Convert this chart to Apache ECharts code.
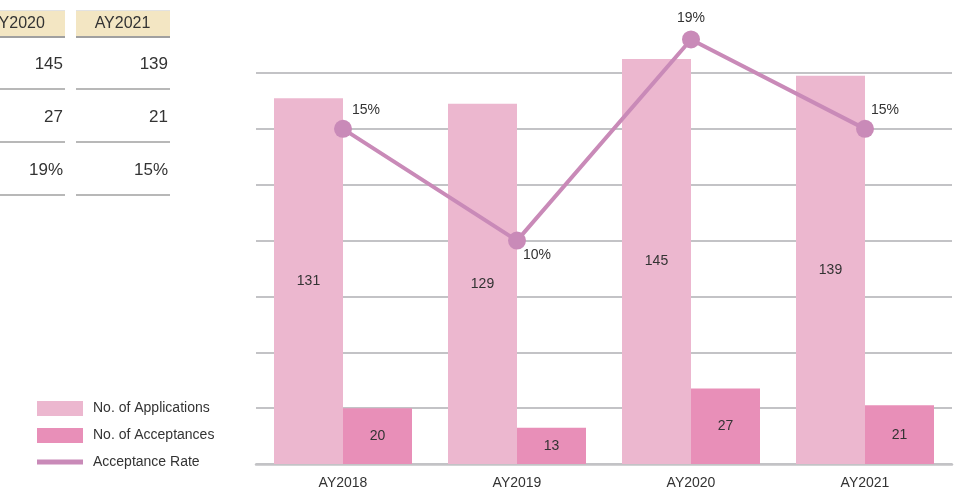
<!DOCTYPE html>
<html>
<head>
<meta charset="utf-8">
<script src="https://cdn.jsdelivr.net/npm/echarts@6/dist/echarts.min.js"></script>
<style>html,body{margin:0;padding:0;background:#fff;}#c{width:979px;height:491px;}</style>
</head>
<body>
<div id="c"></div>
<script>
const categories = ['AY2018', 'AY2019', 'AY2020', 'AY2021'];
const applications = [131, 129, 145, 139];
const acceptances = [20, 13, 27, 21];
const rates = [15, 10, 19, 15];
const tableCols = [2, 3]; // indices of categories shown in the (cropped) table
const seriesNames = ['No. of Applications', 'No. of Acceptances', 'Acceptance Rate'];

const FONT = '"Liberation Sans", Arial, Helvetica, sans-serif';
const C_APP = '#ecb7cf';
const C_ACC = '#e88fb8';
const C_LINE = '#c98ab8';
const C_GRID = '#c3c3c6';

const rateLabelCfg = [
  { position: 'right', offset: [-5, -19] },
  { position: 'right', offset: [-8, 15] },
  { position: 'top', offset: [0, 0] },
  { position: 'right', offset: [-8, -19] }
];

// table graphic
const graphics = [];
const colX = [{ x0: -30, x1: 65 }, { x0: 76, x1: 170 }];
const rowYs = [64, 117, 170];
const lineYs = [89, 142, 195];
tableCols.forEach((ci, k) => {
  const c = colX[k];
  graphics.push({ type: 'rect', shape: { x: c.x0, y: 10, width: c.x1 - c.x0, height: 27 }, style: { fill: '#f3e6c3' } });
  graphics.push({ type: 'line', shape: { x1: c.x0, y1: 10.5, x2: c.x1, y2: 10.5 }, style: { stroke: '#e2e2e2', lineWidth: 1 } });
  graphics.push({ type: 'line', shape: { x1: c.x0, y1: 37, x2: c.x1, y2: 37 }, style: { stroke: '#a0a0a0', lineWidth: 2 } });
  graphics.push({ type: 'text', x: (c.x0 + c.x1) / 2 - 0.5, y: 23.5, style: { text: categories[ci], font: '16px ' + FONT, fill: '#333', align: 'center', verticalAlign: 'middle' } });
  const vals = [String(applications[ci]), String(acceptances[ci]), rates[ci] + '%'];
  vals.forEach((v, r) => {
    graphics.push({ type: 'text', x: c.x1 - 2, y: rowYs[r], style: { text: v, font: '17px ' + FONT, fill: '#333', align: 'right', verticalAlign: 'middle' } });
    graphics.push({ type: 'line', shape: { x1: c.x0, y1: lineYs[r], x2: c.x1, y2: lineYs[r] }, style: { stroke: '#a0a0a0', lineWidth: 1.5 } });
  });
});

const chart = echarts.init(document.getElementById('c'));
chart.setOption({
  animation: false,
  textStyle: { fontFamily: FONT },
  graphic: graphics,
  legend: [
    {
      orient: 'vertical', left: 37, top: 401, padding: 0, itemWidth: 46, itemHeight: 15, itemGap: 12,
      icon: 'rect', data: [seriesNames[0], seriesNames[1]],
      textStyle: { fontSize: 14, color: '#333', padding: [0, 0, 0, 5], fontFamily: FONT },
      selectedMode: false
    },
    {
      orient: 'vertical', left: 37, top: 455, padding: 0, itemWidth: 46, itemHeight: 5,
      icon: 'rect', data: [seriesNames[2]],
      textStyle: { fontSize: 14, color: '#333', padding: [0, 0, 0, 5], fontFamily: FONT },
      selectedMode: false
    }
  ],
  grid: { left: 256, right: 27, top: 73, bottom: 27, containLabel: false },
  xAxis: {
    type: 'category', data: categories,
    axisLine: { lineStyle: { color: C_GRID, width: 2.5 } },
    axisTick: { show: false },
    axisLabel: { fontSize: 14, color: '#333', margin: 12, fontFamily: FONT }
  },
  yAxis: [
    { type: 'value', min: 0, max: 140, interval: 20, axisLabel: { show: false }, axisLine: { show: false }, axisTick: { show: false },
      splitLine: { lineStyle: { color: C_GRID, width: 2 } } },
    { type: 'value', min: 0, max: 17.5, show: false, splitLine: { show: false } }
  ],
  series: [
    {
      name: seriesNames[0], type: 'bar', data: applications, barWidth: 69, barGap: '0%', clip: false,
      itemStyle: { color: C_APP },
      label: { show: true, position: 'inside', fontSize: 14, color: '#333', fontFamily: FONT }
    },
    {
      name: seriesNames[1], type: 'bar', data: acceptances, barWidth: 69, barGap: '0%', clip: false,
      itemStyle: { color: C_ACC },
      label: { show: true, position: 'inside', fontSize: 14, color: '#333', fontFamily: FONT }
    },
    {
      name: seriesNames[2], type: 'line', yAxisIndex: 1, clip: false, z: 5,
      data: rates.map((v, i) => ({ value: v, label: rateLabelCfg[i] })),
      symbol: 'circle', symbolSize: 18,
      lineStyle: { color: C_LINE, width: 4 },
      itemStyle: { color: C_LINE },
      label: { show: true, fontSize: 14, color: '#333', formatter: p => p.value + '%', fontFamily: FONT }
    }
  ]
});
</script>
</body>
</html>
